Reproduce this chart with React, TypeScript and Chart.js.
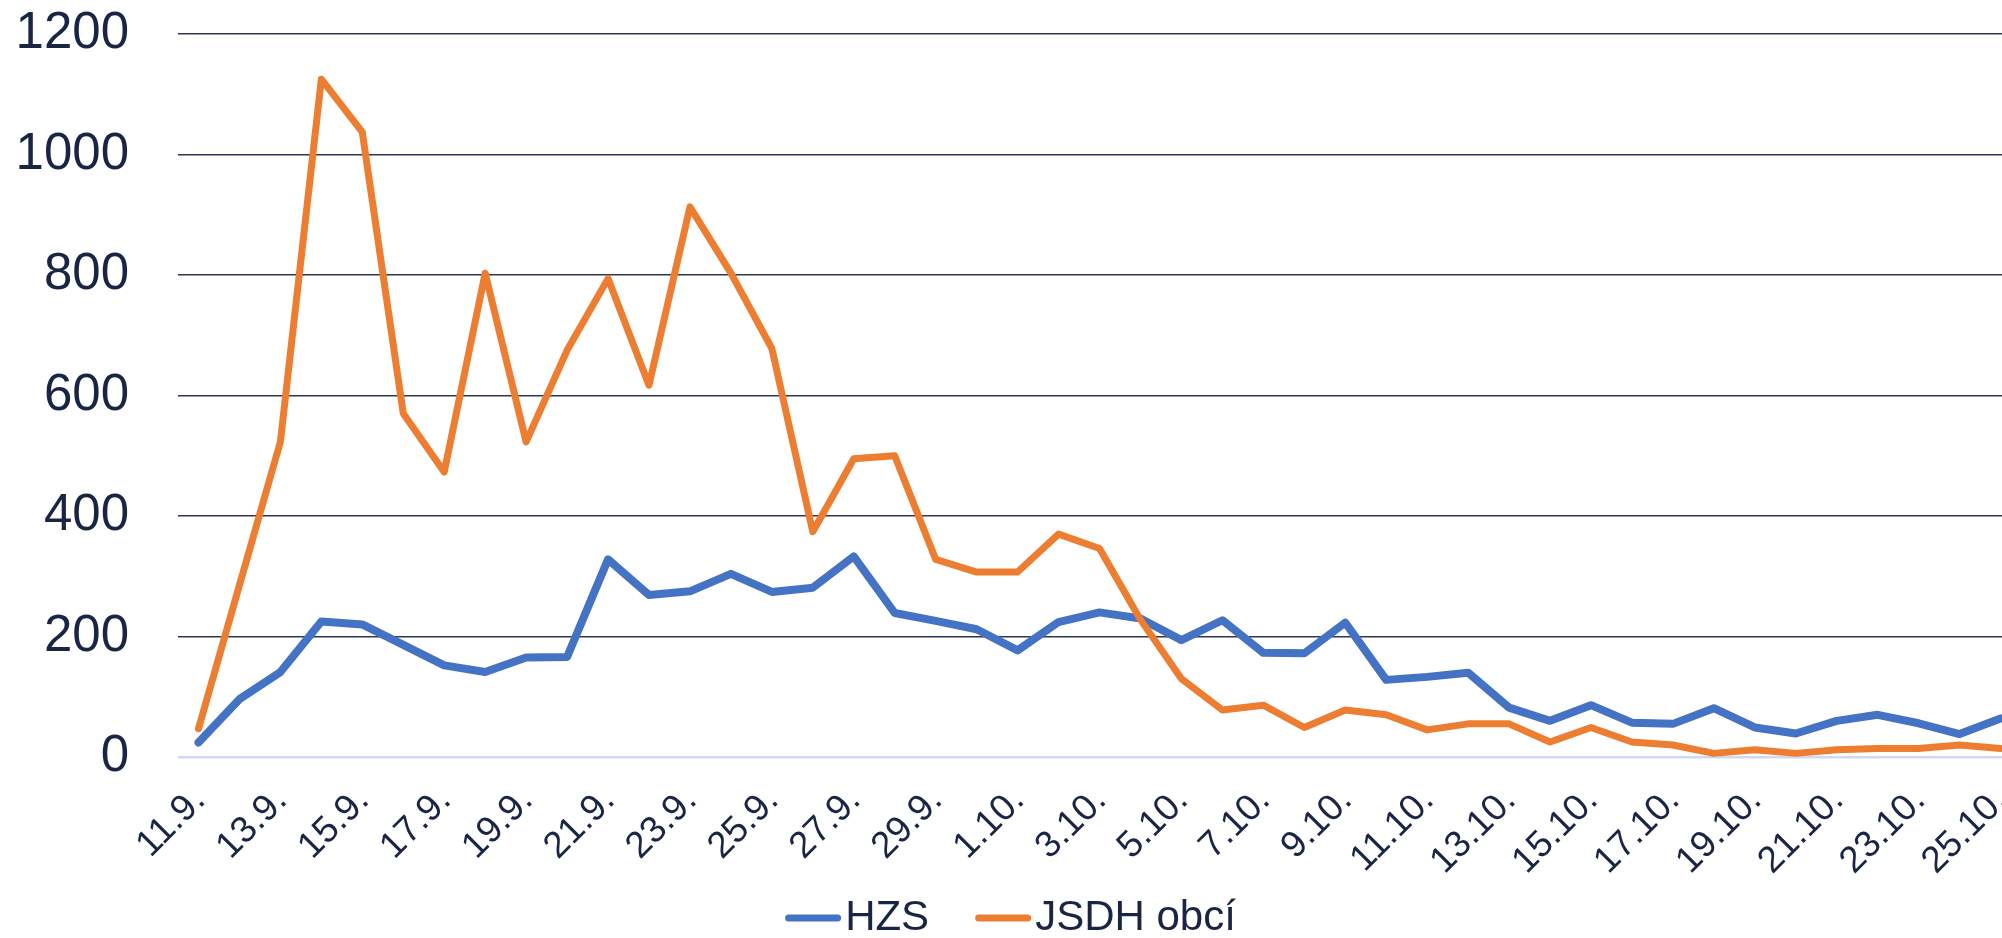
import React, { useEffect, useRef } from "react";
import { Chart, registerables } from "chart.js";

Chart.register(...registerables);

const dayLabels: string[] = [
  "11.9.", "12.9.", "13.9.", "14.9.", "15.9.", "16.9.", "17.9.", "18.9.", "19.9.", "20.9.",
  "21.9.", "22.9.", "23.9.", "24.9.", "25.9.", "26.9.", "27.9.", "28.9.", "29.9.", "30.9.",
  "1.10.", "2.10.", "3.10.", "4.10.", "5.10.", "6.10.", "7.10.", "8.10.", "9.10.", "10.10.",
  "11.10.", "12.10.", "13.10.", "14.10.", "15.10.", "16.10.", "17.10.", "18.10.", "19.10.", "20.10.",
  "21.10.", "22.10.", "23.10.", "24.10.", "25.10.",
];

const hzsValues: number[] = [
  24, 96, 141, 225, 220, 186, 152, 141, 165, 166,
  328, 269, 275, 304, 274, 281, 333, 239, 226, 212,
  177, 224, 240, 230, 194, 227, 173, 172, 223, 128,
  133, 140, 82, 60, 86, 57, 55, 81, 49, 39,
  60, 70, 56, 38, 64,
];

const jsdhValues: number[] = [
  47, 285, 523, 1125, 1037, 570, 473, 803, 523, 675,
  794, 617, 913, 803, 678, 374, 495, 500, 328, 307,
  307, 370, 346, 228, 130, 78, 86, 49, 78, 70,
  45, 55, 55, 25, 49, 25, 20, 6, 12, 6,
  12, 14, 14, 20, 14,
];

const seriesNames: string[] = ["HZS", "JSDH obcí"];
const yTicks: number[] = [0, 200, 400, 600, 800, 1000, 1200];

const BLUE = "#4472C4";
const ORANGE = "#ED7D31";
const TEXT = "#1A2545";
const FONT = "'Liberation Sans', Arial, sans-serif";

// Legend drawn below the axis labels, centred on the canvas
const bottomLegend = {
  id: "bottomLegend",
  afterDraw(chart: any) {
    const ctx = chart.ctx as CanvasRenderingContext2D;
    const colors = [BLUE, ORANGE];
    const lineLen = 56;
    const lineGap = 4;
    const itemGap = 46;
    ctx.save();
    ctx.font = `42px ${FONT}`;
    const widths = seriesNames.map((n) => ctx.measureText(n).width);
    const total = widths.reduce((a, w) => a + lineLen + lineGap + w, 0) + itemGap * (seriesNames.length - 1);
    let x = chart.width / 2 - total / 2;
    const y = 918;
    seriesNames.forEach((name, i) => {
      ctx.strokeStyle = colors[i];
      ctx.lineWidth = 7;
      ctx.lineCap = "round";
      ctx.beginPath();
      ctx.moveTo(x + 3.5, y);
      ctx.lineTo(x + lineLen - 3.5, y);
      ctx.stroke();
      ctx.fillStyle = TEXT;
      ctx.textBaseline = "middle";
      ctx.textAlign = "left";
      ctx.fillText(name, x + lineLen + lineGap, y);
      x += lineLen + lineGap + widths[i] + itemGap;
    });
    ctx.restore();
  },
};

export default function App() {
  const ref = useRef<HTMLCanvasElement | null>(null);

  useEffect(() => {
    if (!ref.current) return;
    const chart = new Chart(ref.current, {
      type: "line",
      data: {
        labels: dayLabels,
        datasets: [
          {
            label: seriesNames[0],
            data: hzsValues,
            borderColor: BLUE,
            backgroundColor: BLUE,
            borderWidth: 8,
            pointRadius: 0,
            tension: 0,
            borderJoinStyle: "round",
            borderCapStyle: "round",
            order: 1,
          },
          {
            label: seriesNames[1],
            data: jsdhValues,
            borderColor: ORANGE,
            backgroundColor: ORANGE,
            borderWidth: 7,
            pointRadius: 0,
            tension: 0,
            borderJoinStyle: "round",
            borderCapStyle: "round",
            order: 0,
          },
        ],
      },
      plugins: [bottomLegend],
      options: {
        animation: false,
        responsive: false,
        devicePixelRatio: 1,
        layout: { padding: { left: 10, top: 34, right: 0, bottom: 0 } },
        plugins: {
          tooltip: { enabled: false },
          legend: { display: false },
        },
        scales: {
          x: {
            type: "category",
            offset: true,
            grid: { display: false },
            border: { display: false },
            ticks: {
              autoSkip: false,
              minRotation: 45,
              maxRotation: 45,
              padding: 14,
              labelOffset: 1,
              color: TEXT,
              font: { family: FONT, size: 37 },
              callback: (_v: any, idx: number) => (idx % 2 === 0 ? dayLabels[idx] : ""),
            },
            afterFit: (scale: any) => {
              scale.height = 181;
              scale.paddingLeft = 0;
              scale.paddingRight = 0;
            },
          },
          y: {
            min: 0,
            max: 1200,
            border: { display: false },
            grid: {
              drawTicks: false,
              color: (ctx: any) => (ctx.tick && ctx.tick.value === 0 ? "#D0D9EE" : "#2E3656"),
              lineWidth: (ctx: any) => (ctx.tick && ctx.tick.value === 0 ? 2.5 : 1.5),
            },
            afterBuildTicks: (scale: any) => {
              scale.ticks = yTicks.map((v) => ({ value: v }));
            },
            ticks: {
              padding: 49,
              color: TEXT,
              font: { family: FONT, size: 51 },
              callback: (v: any) => String(v),
            },
            afterFit: (scale: any) => {
              scale.width = 168;
              scale.paddingTop = 0;
              scale.paddingBottom = 0;
            },
          },
        },
      },
    });
    return () => chart.destroy();
  }, []);

  return (
    <div
      style={{
        position: "fixed",
        left: 0,
        top: 0,
        width: 2002,
        height: 938,
        overflow: "hidden",
        background: "#ffffff",
      }}
    >
      <canvas ref={ref} width={2021} height={938} style={{ display: "block", width: 2021, height: 938 }} />
    </div>
  );
}
